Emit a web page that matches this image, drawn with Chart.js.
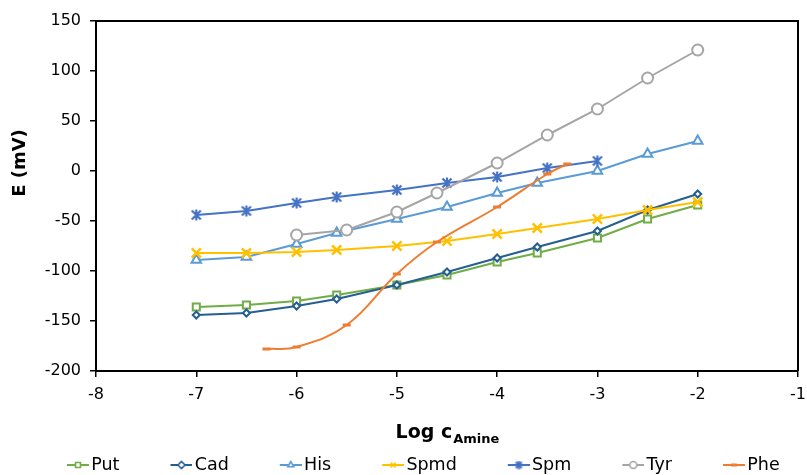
<!DOCTYPE html>
<html>
<head>
<meta charset="utf-8">
<script src="https://cdn.jsdelivr.net/npm/chart.js@4.4.1/dist/chart.umd.min.js"></script>
<style>
  html, body { margin: 0; padding: 0; background: #fff; }
</style>
</head>
<body>
<canvas id="chart" width="807" height="475"></canvas>
<script>
// log concentrations (x) for each group of measurements
const logMain = [-7, -6.5, -6, -5.6, -5, -4.5, -4, -3.6, -3, -2.5, -2];
const logSpm = [-7, -6.5, -6, -5.6, -5, -4.5, -4, -3.5, -3];
const logTyr = [-6, -5.5, -5, -4.6, -4, -3.5, -3, -2.5, -2];
const logPhe = [-6.3, -6, -5.5, -5, -4.6, -4, -3.5, -3.3];

// potentials in mV
const ePut = [-136, -134, -130, -124, -114, -104, -91, -82, -67, -48, -34];
const eCad = [-144, -142, -135, -128, -114, -101, -87, -76, -60, -39, -23];
const eHis = [-89, -86, -73, -62, -48, -36, -22, -12, 0, 17, 30];
const eSpmd = [-82, -82, -81, -79, -75, -70, -63, -57, -48, -39, -31];
const eSpm = [-44, -40, -32, -26, -19, -12, -6, 3, 10];
const eTyr = [-64, -59, -41, -22, 8, 36, 62, 93, 121];
const ePhe = [-178, -176, -154, -103, -71, -36, -3, 7];

const xTicks = [-8, -7, -6, -5, -4, -3, -2, -1];
const yTicks = [-200, -150, -100, -50, 0, 50, 100, 150];

const FONT = '"DejaVu Sans", sans-serif';
const LEGEND_SIZE = 17.5;

function pts(xs, ys) {
  return xs.map((x, i) => ({ x: x, y: ys[i] }));
}

// "star" marker: an X with a vertical bar
function starMarker(color, size) {
  const c = document.createElement('canvas');
  c.width = size; c.height = size;
  const g = c.getContext('2d');
  g.strokeStyle = color;
  g.lineWidth = 2.2;
  const m = 1.5, s = size - 1.5, h = size / 2;
  g.beginPath();
  g.moveTo(m, m); g.lineTo(s, s);
  g.moveTo(s, m); g.lineTo(m, s);
  g.moveTo(h, 0.5); g.lineTo(h, size - 0.5);
  g.stroke();
  return c;
}

const spmMarker = starMarker('#4472C4', 12);

const series = [
  { label: 'Put', xs: logMain, ys: ePut, color: '#70AD47', style: 'rect', r: 5, fill: '#fff', bw: 2 },
  { label: 'Cad', xs: logMain, ys: eCad, color: '#255E91', style: 'rectRot', r: 3.5, fill: '#fff', bw: 2 },
  { label: 'His', xs: logMain, ys: eHis, color: '#5B9BD5', style: 'triangle', r: 5.5, fill: '#fff', bw: 2 },
  { label: 'Spmd', xs: logMain, ys: eSpmd, color: '#FFC000', style: 'crossRot', r: 6.5, fill: '#FFC000', bw: 2.5 },
  { label: 'Spm', xs: logSpm, ys: eSpm, color: '#4472C4', style: spmMarker, r: 6, fill: '#4472C4', bw: 2 },
  { label: 'Tyr', xs: logTyr, ys: eTyr, color: '#A5A5A5', style: 'circle', r: 5.5, fill: '#fff', bw: 2 },
  { label: 'Phe', xs: logPhe, ys: ePhe, color: '#ED7D31', style: 'line', r: 4, fill: '#ED7D31', bw: 3, smooth: true }
];

// legend icon: short line + marker sitting in the right part of a wider canvas,
// so the legend box can be wide while the visible sample stays next to the text
const PSW = 60;
const ICON_W = PSW + 13, LINE_FROM = PSW - 9, LINE_TO = PSW + 13;
function legendIcon(s) {
  const c = document.createElement('canvas');
  c.width = ICON_W; c.height = 12;
  const g = c.getContext('2d');
  const mid = (LINE_FROM + LINE_TO) / 2;
  g.strokeStyle = s.color;
  g.lineWidth = 2;
  g.beginPath(); g.moveTo(LINE_FROM, 6); g.lineTo(LINE_TO, 6); g.stroke();
  if (typeof s.style !== 'string') {
    g.drawImage(starMarker(s.color, 9), mid - 4.5, 1.5);
  } else {
    g.fillStyle = s.fill;
    g.lineWidth = s.style === 'line' ? 3 : 1.6;
    Chart.helpers.drawPoint(g, { pointStyle: s.style, radius: s.style === 'line' ? 3 : 3.5, rotation: 0, borderWidth: g.lineWidth }, mid, 6);
  }
  return c;
}

const datasets = series.map((s, i) => ({
  label: s.label,
  data: pts(s.xs, s.ys),
  showLine: true,
  borderColor: s.color,
  backgroundColor: s.fill,
  borderWidth: 2,
  tension: s.smooth ? 0.4 : 0,
  pointStyle: s.style,
  pointRadius: s.r,
  pointBorderWidth: s.bw,
  pointBorderColor: s.color,
  pointBackgroundColor: s.fill,
  order: series.length - i
}));

const framePlugin = {
  id: 'framePlugin',
  afterDraw(chart) {
    const { ctx, chartArea: a } = chart;
    ctx.save();
    ctx.strokeStyle = '#000';
    ctx.lineWidth = 2;
    ctx.beginPath();
    ctx.moveTo(a.left - 1, a.top);
    ctx.lineTo(a.right, a.top);
    ctx.lineTo(a.right, a.bottom);
    ctx.stroke();

    ctx.fillStyle = '#000';
    // y axis title
    ctx.save();
    ctx.translate(20, 163);
    ctx.rotate(-Math.PI / 2);
    ctx.font = 'bold 18px ' + FONT;
    ctx.textAlign = 'center';
    ctx.textBaseline = 'middle';
    ctx.fillText('E (mV)', 0, 0);
    ctx.restore();

    // x axis title with subscript
    const main = 'Log c', sub = 'Amine';
    ctx.font = 'bold 19px ' + FONT;
    const w1 = ctx.measureText(main).width;
    ctx.font = 'bold 13px ' + FONT;
    const w2 = ctx.measureText(sub).width;
    const x0 = (a.left + a.right) / 2 - (w1 + w2) / 2;
    ctx.textAlign = 'left';
    ctx.textBaseline = 'alphabetic';
    ctx.font = 'bold 19px ' + FONT;
    ctx.fillText(main, x0, 438);
    ctx.font = 'bold 13px ' + FONT;
    ctx.fillText(sub, x0 + w1 + 1, 443);
    ctx.restore();
  }
};

new Chart(document.getElementById('chart'), {
  type: 'scatter',
  data: { datasets: datasets },
  options: {
    responsive: false,
    animation: false,
    layout: { padding: { left: 16, right: 0, top: 21, bottom: -8.75 } },
    plugins: {
      tooltip: { enabled: false },
      legend: {
        position: 'bottom',
        align: 'start',
        labels: {
          usePointStyle: true,
          pointStyleWidth: PSW,
          padding: 6.5,
          color: '#000',
          font: { family: FONT, size: LEGEND_SIZE },
          generateLabels(chart) {
            return chart.data.datasets.map((d, i) => ({
              text: d.label,
              pointStyle: legendIcon(series[i]),
              fillStyle: series[i].color,
              strokeStyle: series[i].color,
              lineWidth: 0,
              fontColor: '#000',
              hidden: false,
              datasetIndex: i
            }));
          }
        }
      }
    },
    scales: {
      x: {
        type: 'linear',
        min: -8,
        max: -1,
        afterBuildTicks(scale) { scale.ticks = xTicks.map(v => ({ value: v })); },
        afterFit(scale) { scale.paddingLeft = 0; scale.paddingRight = 6; scale.height = 78.75; },
        ticks: { color: '#000', padding: 8, font: { family: FONT, size: 16 } },
        grid: { drawOnChartArea: false, drawTicks: true, tickLength: 6, color: '#000', lineWidth: 1.5 },
        border: { display: true, color: '#000', width: 2 }
      },
      y: {
        type: 'linear',
        min: -200,
        max: 150,
        afterBuildTicks(scale) { scale.ticks = yTicks.map(v => ({ value: v })); },
        afterFit(scale) { scale.paddingTop = 0; scale.paddingBottom = 0; scale.width = 80; },
        ticks: { color: '#000', padding: 9, font: { family: FONT, size: 16 } },
        grid: { drawOnChartArea: false, drawTicks: true, tickLength: 6, color: '#000', lineWidth: 1.5 },
        border: { display: true, color: '#000', width: 2 }
      }
    }
  },
  plugins: [framePlugin]
});
</script>
</body>
</html>
